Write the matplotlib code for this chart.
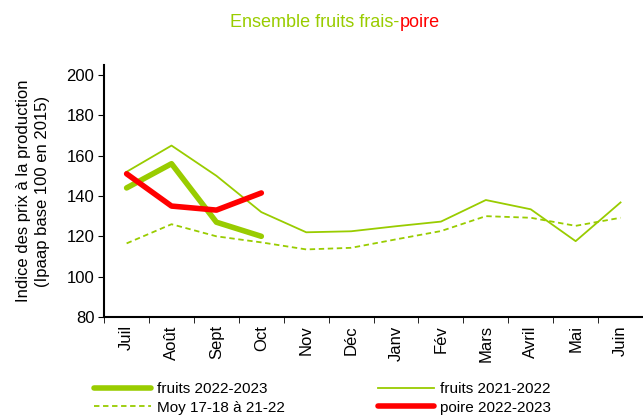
import matplotlib.pyplot as plt

plt.rcParams['font.family'] = ['Liberation Sans', 'DejaVu Sans']

months = ["Juil", "Août", "Sept", "Oct", "Nov", "Déc", "Janv", "Fév",
          "Mars", "Avril", "Mai", "Juin"]
fruits_2223 = [144, 156, 127, 120]
fruits_2122 = [152, 165, 150, 132, 122, 122.5, 125, 127.3, 138, 133.4, 117.6, 136.8]
moy = [116.5, 126, 120, 117, 113.5, 114.3, 118.5, 122.6, 130, 129.2, 125.2, 129.2]
poire_2223 = [151, 135, 133, 141.5]

green = "#99cc00"
red = "#ff0000"

fig = plt.figure(figsize=(6.43, 4.16), dpi=100)
ax = fig.add_axes([0.162, 0.238, 0.838, 0.606])

x = list(range(len(months)))
l2, = ax.plot(x, fruits_2122, color=green, lw=1.3)
l3, = ax.plot(x, moy, color=green, lw=1.3, ls=(0, (3, 2)))
l1, = ax.plot(x[:len(fruits_2223)], fruits_2223, color=green, lw=4,
              solid_capstyle='round')
l4, = ax.plot(x[:len(poire_2223)], poire_2223, color=red, lw=4,
              solid_capstyle='round')

ax.set_xlim(-0.5, len(months) - 0.5)
ax.set_ylim(80, 205)
ax.set_yticks(range(80, 201, 20))
ax.set_xticks(x)
ax.set_xticklabels(months, rotation=90, fontsize=12)
ax.set_xticks([i + 0.5 for i in range(-1, len(months))], minor=True)
ax.tick_params(axis='x', which='major', length=0, pad=6)
ax.tick_params(axis='x', which='minor', length=4, direction='out')
ax.tick_params(axis='y', length=4, direction='out', labelsize=12, pad=3)
for s in ["top", "right"]:
    ax.spines[s].set_visible(False)
ax.spines["left"].set_linewidth(1.5)
ax.spines["bottom"].set_linewidth(1.5)

ax.set_ylabel("Indice des prix à la production\n(Ipaap base 100 en 2015)",
              fontsize=12, labelpad=12, linespacing=1.3)

fig.text(0.621, 0.945, "Ensemble fruits frais-", color=green, fontsize=13,
         ha="right", va="center")
fig.text(0.621, 0.945, "poire", color=red, fontsize=13, ha="left", va="center")

handles = [l1, l3, l2, l4]
labels = ["fruits 2022-2023", "Moy 17-18 à 21-22", "fruits 2021-2022",
          "poire 2022-2023"]
fig.legend(handles, labels, ncol=2, loc="lower left",
           bbox_to_anchor=(0.125, -0.03), frameon=False, fontsize=11,
           handlelength=3.7, columnspacing=6.1, labelspacing=0.3,
           handletextpad=0.4)

fig.savefig("out.png", dpi=100)
